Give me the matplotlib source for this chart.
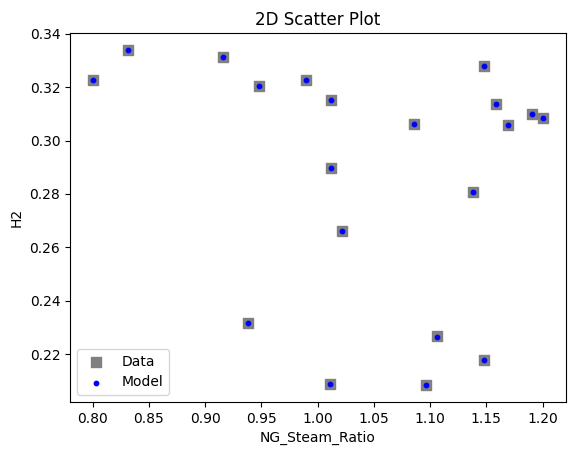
import matplotlib
matplotlib.use("Agg")
import matplotlib.pyplot as plt

ng_steam_ratio = [0.800, 0.8315, 0.9162, 0.9482, 0.9900, 1.0116, 1.0116, 1.0220, 0.9378, 1.0113,
                  1.0856, 1.1062, 1.0960, 1.1378, 1.1482, 1.1482, 1.1590, 1.1697, 1.1910, 1.2008]
h2_data = [0.3228, 0.3340, 0.3312, 0.3203, 0.3227, 0.3151, 0.2897, 0.2661, 0.2317, 0.2087,
           0.3061, 0.2267, 0.2083, 0.2806, 0.3279, 0.2177, 0.3136, 0.3057, 0.3100, 0.3086]
h2_model = [0.3228, 0.3338, 0.3312, 0.3203, 0.3227, 0.3151, 0.2897, 0.2661, 0.2317, 0.2087,
            0.3061, 0.2265, 0.2083, 0.2806, 0.3279, 0.2177, 0.3136, 0.3057, 0.3100, 0.3086]

fig = plt.figure(figsize=(5.76, 4.55), dpi=100)
ax = fig.add_axes([70/576, 53/455, 496/576, 369/455])
ax.scatter(ng_steam_ratio, h2_data, marker='s', s=50, color='gray', label='Data')
ax.scatter(ng_steam_ratio, h2_model, marker='o', s=10, color='blue', label='Model')
ax.set_xlabel('NG_Steam_Ratio')
ax.set_ylabel('H2')
ax.set_title('2D Scatter Plot')
ax.legend(loc='lower left')
fig.savefig('out.png', dpi=100)
